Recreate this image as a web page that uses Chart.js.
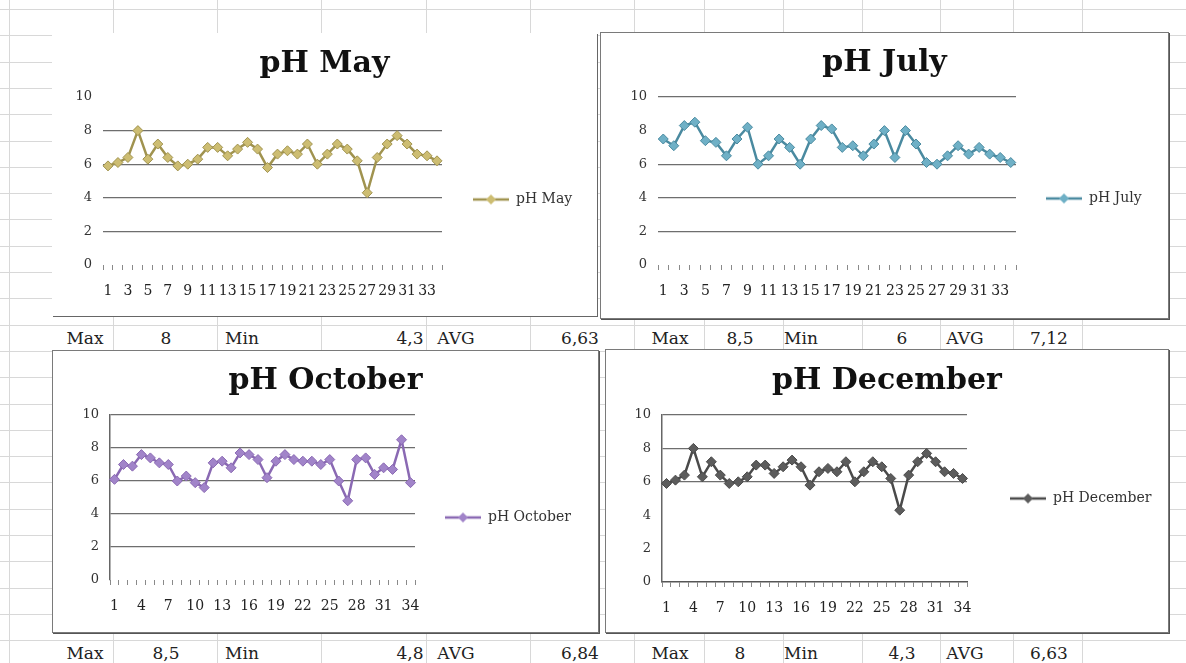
<!DOCTYPE html>
<html>
<head>
<meta charset="utf-8">
<title>pH charts</title>
<script src="https://cdn.jsdelivr.net/npm/chart.js@4.4.1/dist/chart.umd.min.js"></script>
<style>
    html, body { margin: 0; padding: 0; background: #fff; }
    #sheet { position: relative; width: 1186px; height: 663px; overflow: hidden; font-family: "DejaVu Serif", serif; }
    .vline { position: absolute; top: 0; width: 1px; height: 663px; background: #d8d8d8; }
    .hline { position: absolute; left: 0; height: 1px; width: 1186px; background: #d8d8d8; }
    .box { position: absolute; background: #fff; }
    .box canvas { display: block; }
    .cell { position: absolute; transform: translate(-50%, -50%); font-size: 17px; color: #222; white-space: nowrap; }
</style>
</head>
<body>
<div id="sheet"></div>
<script>
// sample number on the x axis
const sampleNo = ['1','2','3','4','5','6','7','8','9','10','11','12','13','14','15','16','17',
                  '18','19','20','21','22','23','24','25','26','27','28','29','30','31','32','33','34'];

const phMay = [5.9, 6.1, 6.4, 8.0, 6.3, 7.2, 6.4, 5.9, 6.0, 6.3, 7.0, 7.0, 6.5, 6.9, 7.3, 6.9, 5.8,
               6.6, 6.8, 6.6, 7.2, 6.0, 6.6, 7.2, 6.9, 6.2, 4.3, 6.4, 7.2, 7.7, 7.2, 6.6, 6.5, 6.2];
const phJuly = [7.5, 7.1, 8.3, 8.5, 7.4, 7.3, 6.5, 7.5, 8.2, 6.0, 6.5, 7.5, 7.0, 6.0, 7.5, 8.3, 8.1,
                7.0, 7.1, 6.5, 7.2, 8.0, 6.4, 8.0, 7.2, 6.1, 6.0, 6.5, 7.1, 6.6, 7.0, 6.6, 6.4, 6.1];
const phOctober = [6.1, 7.0, 6.9, 7.6, 7.4, 7.1, 7.0, 6.0, 6.3, 5.9, 5.6, 7.1, 7.2, 6.8, 7.7, 7.6, 7.3,
                   6.2, 7.2, 7.6, 7.3, 7.2, 7.2, 7.0, 7.3, 6.0, 4.8, 7.3, 7.4, 6.4, 6.8, 6.7, 8.5, 5.9];
const phDecember = [5.9, 6.1, 6.4, 8.0, 6.3, 7.2, 6.4, 5.9, 6.0, 6.3, 7.0, 7.0, 6.5, 6.9, 7.3, 6.9, 5.8,
                    6.6, 6.8, 6.6, 7.2, 6.0, 6.6, 7.2, 6.9, 6.2, 4.3, 6.4, 7.2, 7.7, 7.2, 6.6, 6.5, 6.2];

const yTicks = [0, 2, 4, 6, 8, 10];

// summary cells under each chart
const statNames = ['Max', 'Min', 'AVG'];
const statsMay = ['8', '4,3', '6,63'];
const statsJuly = ['8,5', '6', '7,12'];
const statsOctober = ['8,5', '4,8', '6,84'];
const statsDecember = ['8', '4,3', '6,63'];

const SERIF = '"DejaVu Serif", serif';
const GRID = '#6e6e6e';
const SWATCH_W = 36;
const LEGEND_FONT = 14;

const sheet = document.getElementById('sheet');

// excel cell grid in the background
function drawSheetGrid() {
    const cols = [9, 113, 217, 321, 426, 530, 634, 704, 783, 862, 940, 1013, 1082];
    cols.forEach(x => {
        const d = document.createElement('div');
        d.className = 'vline';
        d.style.left = x + 'px';
        sheet.appendChild(d);
    });
    for (let y = 9; y < 663; y += 26.3) {
        const d = document.createElement('div');
        d.className = 'hline';
        d.style.top = Math.round(y) + 'px';
        sheet.appendChild(d);
    }
}

function drawStatRow(y, xs, stats) {
    const texts = [statNames[0], stats[0], statNames[1], stats[1], statNames[2], stats[2]];
    texts.forEach((t, i) => {
        const s = document.createElement('span');
        s.className = 'cell';
        s.textContent = t;
        s.style.left = xs[i] + 'px';
        s.style.top = y + 'px';
        sheet.appendChild(s);
    });
}

// legend marker: line with a diamond in the middle
function legendSwatch(lineColor, markColor) {
    const c = document.createElement('canvas');
    c.width = SWATCH_W; c.height = 12;
    const g = c.getContext('2d');
    g.strokeStyle = lineColor; g.lineWidth = 2.5;
    g.beginPath(); g.moveTo(0, 6); g.lineTo(SWATCH_W, 6); g.stroke();
    g.fillStyle = markColor;
    g.beginPath();
    g.moveTo(18, 1); g.lineTo(23, 6); g.lineTo(18, 11); g.lineTo(13, 6);
    g.closePath(); g.fill();
    return c;
}

function drawPanel(p) {
    const [bx, by, bw, bh] = p.box;
    const wrap = document.createElement('div');
    wrap.className = 'box';
    wrap.style.cssText = `left:${bx}px;top:${by}px;width:${bw}px;height:${bh}px;box-shadow:${p.shadow}`;
    const cv = document.createElement('canvas');
    cv.width = bw; cv.height = bh;
    wrap.appendChild(cv);
    sheet.appendChild(wrap);

    const [pl, pr, pt, pb] = p.plot;
    const titleTop = p.titleMid - 18;
    const swatch = legendSwatch(p.line, p.mark);

    // legend column takes all the room right of the plot
    const legendWidth = {
        id: 'legendWidth',
        beforeLayout(chart) {
            const lg = chart.legend;
            if (!lg || lg._fixed) return;
            const fit = lg.fit;
            lg.fit = function() { fit.call(this); this.width = bw - pr; };
            lg._fixed = true;
        }
    };

    new Chart(cv, {
        type: 'line',
        data: {
            labels: sampleNo,
            datasets: [{
                label: p.title,
                data: p.data,
                borderColor: p.line,
                backgroundColor: p.mark,
                borderWidth: 2.5,
                pointStyle: 'rectRot',
                pointRadius: 5,
                pointHoverRadius: 5,
                pointBorderWidth: 1,
                pointBorderColor: p.line,
                tension: 0
            }]
        },
        options: {
            responsive: false,
            animation: false,
            layout: { padding: 0 },
            plugins: {
                title: {
                    display: true,
                    text: p.title,
                    color: '#111',
                    font: { family: SERIF, size: 30, weight: 'bold', lineHeight: 1.2 },
                    padding: { top: titleTop, bottom: pt - 36 - titleTop }
                },
                legend: {
                    position: 'right',
                    fullSize: p.legendFull,
                    // empty legend title only pushes the entry down a little
                    title: {
                        display: p.legendDrop > 0,
                        text: '',
                        font: { size: 10, lineHeight: 1 },
                        padding: { top: Math.max(0, p.legendDrop * 2 - 10), bottom: 0 }
                    },
                    labels: {
                        usePointStyle: true,
                        pointStyleWidth: SWATCH_W,
                        padding: p.legendGap,
                        color: '#333',
                        font: { family: SERIF, size: LEGEND_FONT },
                        generateLabels: chart => Chart.defaults.plugins.legend.labels.generateLabels(chart)
                            .map(l => Object.assign(l, { pointStyle: swatch }))
                    }
                },
                tooltip: { enabled: false }
            },
            scales: {
                x: {
                    offset: true,
                    grid: { offset: true, drawOnChartArea: false, tickLength: 5, color: '#8a8a8a' },
                    border: { display: p.xLine, color: '#555', width: 1.5 },
                    ticks: {
                        autoSkip: false, maxRotation: 0, minRotation: 0, padding: 13,
                        color: '#222', font: { family: SERIF, size: 14 },
                        callback: (v, i) => i % p.labelStep === 0 ? sampleNo[i] : ''
                    },
                    afterFit: s => { s.height = bh - pb; }
                },
                y: {
                    min: yTicks[0],
                    max: yTicks[yTicks.length - 1],
                    ticks: { stepSize: yTicks[1] - yTicks[0], padding: 11, color: '#333', font: { family: SERIF, size: 13 } },
                    grid: {
                        drawTicks: false,
                        lineWidth: 1.3,
                        color: ctx => (ctx.tick && p.grid.includes(ctx.tick.value)) ? GRID : 'rgba(0,0,0,0)'
                    },
                    border: { display: p.yLine, color: '#666', width: 1.5 },
                    afterFit: s => { s.width = pl; }
                }
            }
        },
        plugins: [legendWidth]
    });
}

drawSheetGrid();

const FRAME = '0 0 0 1px #7a7a7a, 1px 1px 0 1px #555';
const panels = [
    { title: 'pH May', data: phMay, line: '#a0934f', mark: '#cdbd72',
      box: [52, 33, 545, 283], shadow: '1px 1px 0 0 #666', plot: [51, 390, 64, 232], titleMid: 31,
      legendGap: 31, legendFull: true, legendDrop: 25, labelStep: 2, grid: [2, 4, 6, 8], yLine: false, xLine: false },
    { title: 'pH July', data: phJuly, line: '#4a8aa0', mark: '#6fb0c6',
      box: [601, 33, 567, 285], shadow: FRAME, plot: [57, 415, 64, 232], titleMid: 30,
      legendGap: 30, legendFull: true, legendDrop: 23, labelStep: 2, grid: [2, 4, 6, 10], yLine: false, xLine: false },
    { title: 'pH October', data: phOctober, line: '#8a69b3', mark: '#a184c9',
      box: [53, 351, 545, 281], shadow: FRAME, plot: [57, 362, 64, 229], titleMid: 30,
      legendGap: 30, legendFull: true, legendDrop: 26, labelStep: 3, grid: [2, 4, 6, 8, 10], yLine: true, xLine: false },
    { title: 'pH December', data: phDecember, line: '#4a4a4a', mark: '#5c5c5c',
      box: [606, 350, 562, 282], shadow: FRAME, plot: [56, 361, 65, 232], titleMid: 31,
      legendGap: 43, legendFull: false, legendDrop: 0, labelStep: 3, grid: [6, 8, 10], yLine: true, xLine: true }
];
panels.forEach(drawPanel);

const leftCols = [85, 166, 242, 410, 456, 580];
const rightCols = [670, 740, 801, 902, 965, 1049];
drawStatRow(338, leftCols, statsMay);
drawStatRow(338, rightCols, statsJuly);
drawStatRow(653, leftCols, statsOctober);
drawStatRow(653, rightCols, statsDecember);
</script>
</body>
</html>
